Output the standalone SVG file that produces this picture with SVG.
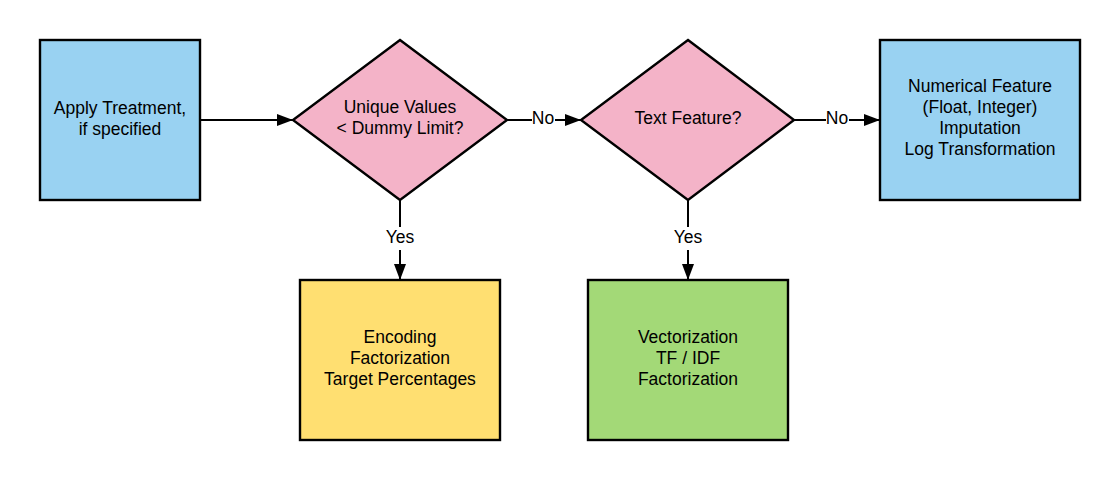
<svg xmlns="http://www.w3.org/2000/svg" width="1120" height="480" viewBox="0 0 1120 480">
<defs>
<marker id="arr" markerWidth="16" markerHeight="12" refX="16" refY="6" orient="auto" markerUnits="userSpaceOnUse">
<path d="M0,0 L16,6 L0,12 Z" fill="#000"/>
</marker>
<style>
.n{stroke:#000;stroke-width:2.4}
.blue{fill:#99d2f2}.pink{fill:#f4b3c8}.yellow{fill:#ffdf71}.green{fill:#a3d977}
text{font-family:"Liberation Sans",Arial,sans-serif;font-size:17.5px;fill:#000;text-anchor:middle;dominant-baseline:central}
.c{stroke:#000;stroke-width:2;fill:none}
.lbl{font-size:17.5px}
</style>
</defs>
<rect width="1120" height="480" fill="#fff"/>
<g id="connectors">
<line class="c" x1="200" y1="120" x2="293" y2="120" marker-end="url(#arr)"/>
<line class="c" x1="507" y1="120" x2="532" y2="120"/>
<line class="c" x1="555" y1="120" x2="581" y2="120" marker-end="url(#arr)"/>
<text class="lbl" x="543" y="118">No</text>
<line class="c" x1="794" y1="120" x2="826" y2="120"/>
<line class="c" x1="849" y1="120" x2="880" y2="120" marker-end="url(#arr)"/>
<text class="lbl" x="837" y="118">No</text>
<line class="c" x1="400" y1="200" x2="400" y2="227"/>
<line class="c" x1="400" y1="250" x2="400" y2="280" marker-end="url(#arr)"/>
<text class="lbl" x="400" y="237">Yes</text>
<line class="c" x1="688" y1="200" x2="688" y2="227"/>
<line class="c" x1="688" y1="250" x2="688" y2="280" marker-end="url(#arr)"/>
<text class="lbl" x="688" y="237">Yes</text>
</g>
<g id="apply">
<rect class="n blue" x="40" y="40" width="160" height="160"/>
<text x="120" y="108">Apply Treatment,</text>
<text x="120" y="129">if specified</text>
</g>
<g id="unique">
<polygon class="n pink" points="400,40 507,120 400,200 293,120"/>
<text x="400" y="107">Unique Values</text>
<text x="400" y="128">&lt; Dummy Limit?</text>
</g>
<g id="textfeature">
<polygon class="n pink" points="688,40 794,120 688,200 581,120"/>
<text x="688" y="118">Text Feature?</text>
</g>
<g id="numerical">
<rect class="n blue" x="880" y="40" width="200" height="160"/>
<text x="980" y="86">Numerical Feature</text>
<text x="980" y="107">(Float, Integer)</text>
<text x="980" y="128">Imputation</text>
<text x="980" y="149">Log Transformation</text>
</g>
<g id="encoding">
<rect class="n yellow" x="300" y="280" width="200" height="160"/>
<text x="400" y="337">Encoding</text>
<text x="400" y="358">Factorization</text>
<text x="400" y="379">Target Percentages</text>
</g>
<g id="vectorization">
<rect class="n green" x="588" y="280" width="200" height="160"/>
<text x="688" y="337">Vectorization</text>
<text x="688" y="358">TF / IDF</text>
<text x="688" y="379">Factorization</text>
</g>
</svg>
